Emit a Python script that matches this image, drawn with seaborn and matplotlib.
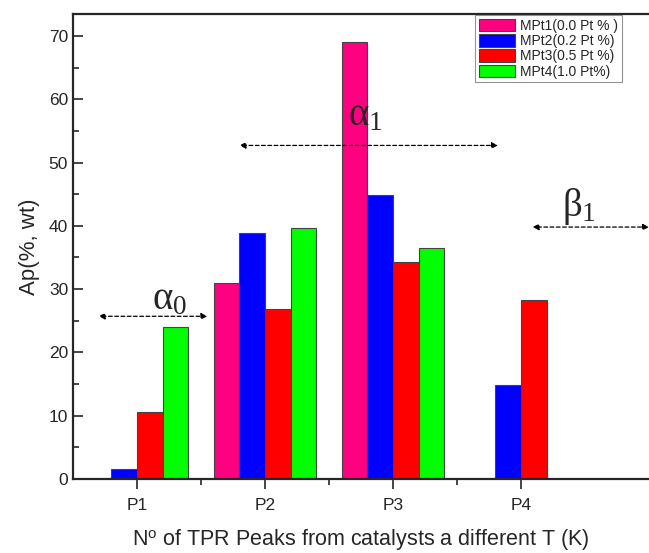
import pandas as pd
import seaborn as sns
import matplotlib.pyplot as plt
from matplotlib.ticker import MultipleLocator, FixedLocator

peaks = ["P1", "P2", "P3", "P4"]
series = ["MPt1(0.0 Pt % )", "MPt2(0.2 Pt %)", "MPt3(0.5 Pt %)", "MPt4(1.0 Pt%)"]
colors = ["#FF0080", "#0000FF", "#FF0000", "#00FF00"]

mpt1 = [None, 31.0, 69.1, None]
mpt2 = [1.5, 38.9, 44.8, 14.8]
mpt3 = [10.5, 26.8, 34.3, 28.3]
mpt4 = [24.0, 39.6, 36.5, None]

rows = []
for name, vals in zip(series, [mpt1, mpt2, mpt3, mpt4]):
    for p, v in zip(peaks, vals):
        if v is not None:
            rows.append({"peak": p, "sample": name, "ap": v})
df = pd.DataFrame(rows)

sns.set_style("ticks")
plt.rcParams["font.family"] = ["Liberation Sans", "DejaVu Sans"]
plt.rcParams["mathtext.fontset"] = "custom"
plt.rcParams["mathtext.rm"] = "Liberation Serif"
plt.rcParams["mathtext.it"] = "Liberation Serif"
plt.rcParams["mathtext.sf"] = "Liberation Sans"

fig = plt.figure(figsize=(6.49, 5.53), dpi=100)
ax = fig.add_axes([0.1125, 0.134, 0.8875, 0.841])

sns.barplot(data=df, x="peak", y="ap", hue="sample", order=peaks,
            hue_order=series, palette=colors, width=0.8, saturation=1,
            edgecolor="#444444", linewidth=0.8, ax=ax)

ax.set_xlim(-0.5, 4.0)
ax.set_ylim(0, 73.5)
ax.yaxis.set_major_locator(MultipleLocator(10))
ax.yaxis.set_minor_locator(MultipleLocator(5))
ax.xaxis.set_minor_locator(FixedLocator([0.5, 1.5, 2.5]))
ax.tick_params(axis="y", which="both", direction="in", labelsize=12.5, width=1.2)
ax.tick_params(axis="y", which="major", length=7)
ax.tick_params(axis="y", which="minor", length=4)
ax.tick_params(axis="x", which="both", direction="out", labelsize=12.5, width=1.2)
ax.tick_params(axis="x", which="major", length=7, pad=7)
ax.tick_params(axis="x", which="minor", length=4)
for s in ["left", "bottom", "top"]:
    ax.spines[s].set_linewidth(1.6)
ax.spines["right"].set_visible(False)

ax.set_ylabel("Ap(%, wt)", fontsize=16, labelpad=6)
ax.set_xlabel("N$^{\\mathsf{o}}$ of TPR Peaks from catalysts a different T (K)",
              fontsize=15.5, labelpad=10)

arrow = dict(arrowstyle="<|-|>", linestyle=(0, (3, 2)), color="black",
             lw=0.9, mutation_scale=9, shrinkA=0, shrinkB=0)
ax.annotate("", xy=(-0.30, 25.7), xytext=(0.55, 25.7), arrowprops=arrow)
ax.annotate("", xy=(0.80, 52.7), xytext=(2.82, 52.7), arrowprops=arrow)
ax.annotate("", xy=(3.09, 39.8), xytext=(4.0, 39.8), arrowprops=arrow)

greek = dict(fontsize=28, ha="center", va="center")
ax.text(0.25, 28.4, "$\\alpha_{0}$", **greek)
ax.text(1.78, 57.4, "$\\alpha_{1}$", **greek)
ax.text(3.45, 43.0, "$\\beta_{1}$", **greek)

leg = ax.legend(loc="upper right", bbox_to_anchor=(0.955, 1.0),
                borderaxespad=0.1, fontsize=10, frameon=True, fancybox=False,
                handlelength=2.6, handleheight=1.0, labelspacing=0.1,
                handletextpad=0.4, borderpad=0.25)
leg.get_frame().set_edgecolor("#777777")
leg.get_frame().set_linewidth(0.8)

fig.savefig("out.png", dpi=100)
